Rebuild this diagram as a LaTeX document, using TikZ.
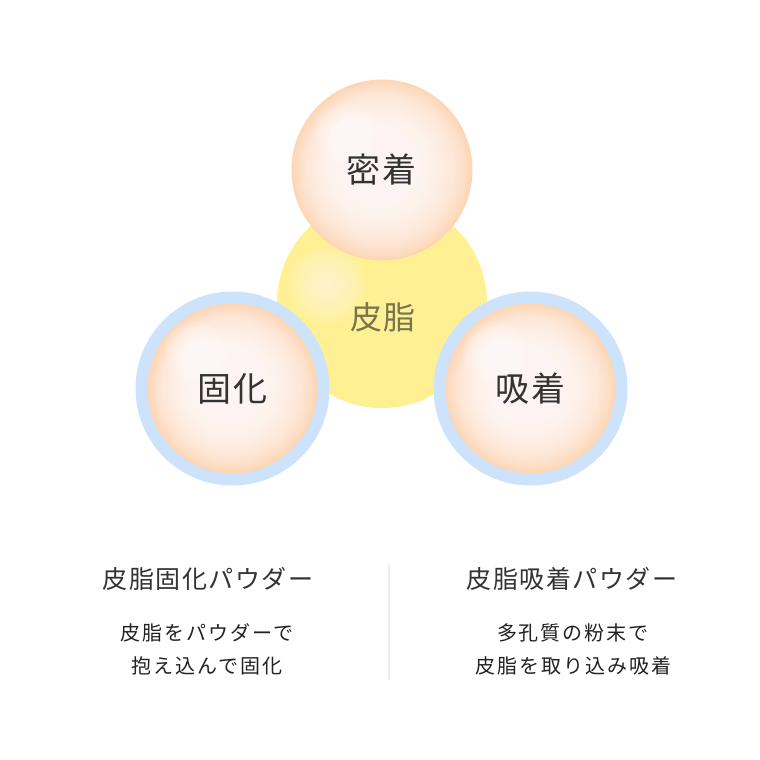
\documentclass[tikz,border=0pt]{standalone}
\usepackage{fontspec}
\newfontfamily\jpA[LetterSpace=6]{Noto Sans CJK JP}
\newfontfamily\jpB[LetterSpace=6]{Noto Sans CJK JP}
\newfontfamily\jpC[LetterSpace=10]{Noto Sans CJK JP}
\definecolor{txtdark}{HTML}{333333}
\definecolor{txtsub}{HTML}{222222}
\definecolor{sebumtxt}{HTML}{7A7350}
\definecolor{sebumfill}{HTML}{FFF193}
\definecolor{sebumhl}{HTML}{FFFDF0}
\definecolor{ringblue}{HTML}{CDE3FC}
\definecolor{peachrim}{HTML}{FDD6B5}
\definecolor{divgray}{HTML}{EEEEEE}
% #1 = centre coordinate name, #2 = radius
\newcommand\mypeachball[2]{%
  \fill[peachrim] (#1) circle (#2);
  \begin{scope}[shift={(#1)}]
    \clip (0,0) circle (#2);
    \foreach \k in {0,...,39} {%
      \pgfmathsetmacro\myoff{-0.07*#2*\k/39}%
      \pgfmathsetmacro\myrad{#2*(0.98-0.022*\k)}%
      \fill[white, fill opacity=0.08] (\myoff,\myoff) circle (\myrad);}
    \foreach \k in {1,...,14} {%
      \pgfmathsetmacro\myrad{34-2.3*\k}%
      \fill[white, fill opacity=0.1] (-36,-36) circle (\myrad);}
  \end{scope}}
\begin{document}
\begin{tikzpicture}[x=1pt,y=-1pt,
  balltext/.style={circle, minimum size=#1, inner sep=0pt, text=txtdark, font=\jpA\fontsize{34}{40}\selectfont},
  ring/.style={circle, minimum size=#1, inner sep=0pt, fill=ringblue},
  sebum/.style={circle, minimum size=#1, inner sep=0pt, fill=sebumfill},
  sebumlabel/.style={text=sebumtxt, font=\jpA\fontsize{32}{40}\selectfont},
  heading/.style={text=txtdark, font=\jpB\fontsize{25}{30}\selectfont, inner sep=0pt},
  desc/.style={text=txtsub, font=\jpC\fontsize{20}{33}\selectfont, align=center, inner sep=0pt},
  divider/.style={draw=divgray, line width=1.6pt}
]
\useasboundingbox[fill=white] (0,0) rectangle (760,760);
\coordinate (cSebum) at (382,303);
\coordinate (cTop) at (382,170);
\coordinate (cLeft) at (232.5,388.5);
\coordinate (cRight) at (530.5,388.5);
% central sebum with soft highlight
\node[sebum=210] (hishi) at (cSebum) {};
\begin{scope}[shift={(cSebum)}]
  \clip (0,0) circle (105);
  \foreach \k in {1,...,14} {%
    \pgfmathsetmacro\myrad{43-2.8*\k}%
    \fill[sebumhl, fill opacity=0.07] (-55,-18) circle (\myrad);}
\end{scope}
\node[sebumlabel] (hishilbl) at (383,317) {皮脂};
% top ball
\mypeachball{cTop}{90.5}
\node[balltext=181] (mitchaku) at (cTop) {密着};
% left ring + ball
\node[ring=194] (ringL) at (cLeft) {};
\mypeachball{cLeft}{85}
\node[balltext=170] (kotei) at (cLeft) {固化};
% right ring + ball
\node[ring=194] (ringR) at (cRight) {};
\mypeachball{cRight}{85}
\node[balltext=170] (kyuchaku) at (cRight) {吸着};
% divider
\coordinate (divtop) at (389,564);
\coordinate (divbot) at (389,680);
\draw[divider] (divtop) -- (divbot);
% bottom texts
\node[heading] (headL) at (208,579) {皮脂固化パウダー};
\node[heading] (headR) at (572,579) {皮脂吸着パウダー};
\node[desc] (descL) at (207,649) {皮脂をパウダーで\\抱え込んで固化};
\node[desc] (descR) at (573,649) {多孔質の粉末で\\皮脂を取り込み吸着};
\end{tikzpicture}
\end{document}
